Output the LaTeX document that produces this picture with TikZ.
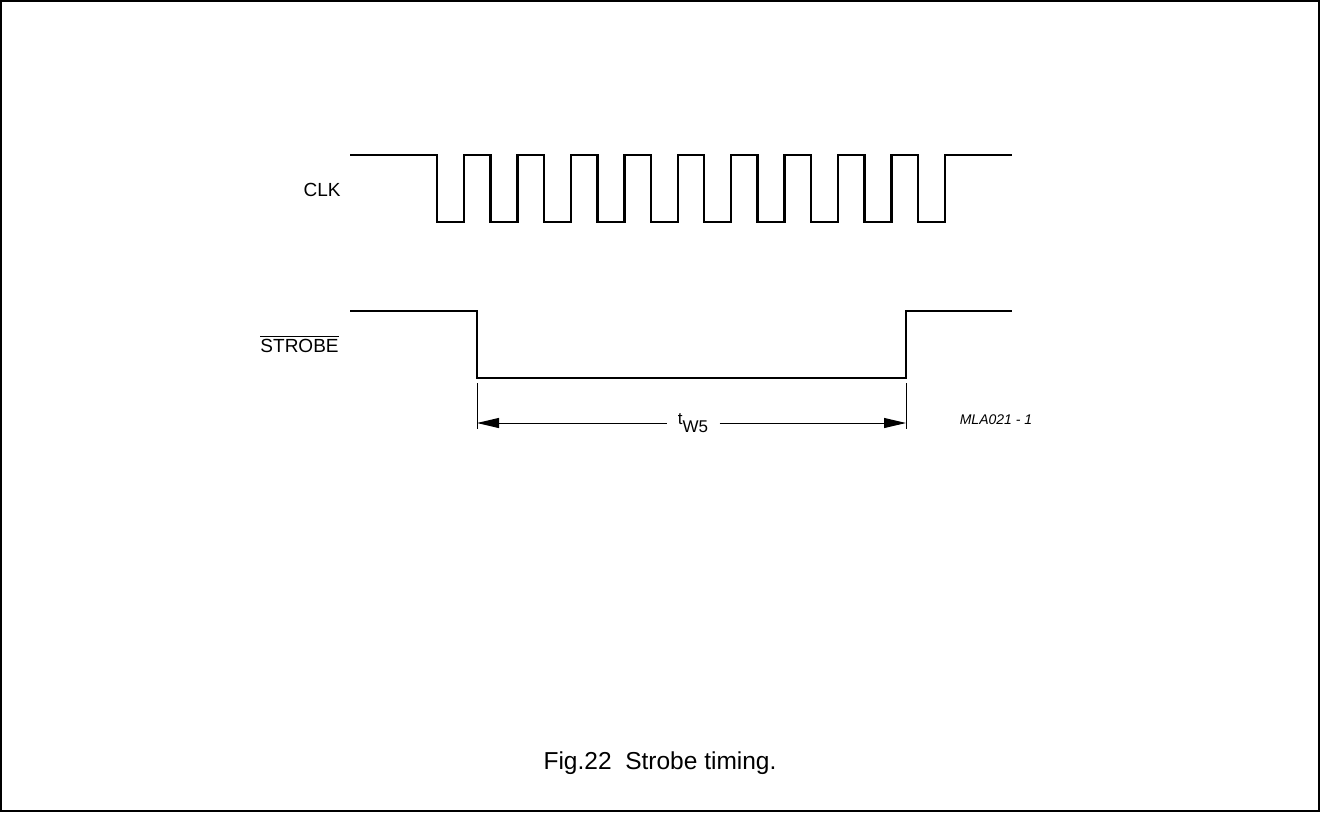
\documentclass[tikz,border=0pt]{standalone}
\usepackage{fontspec}
\setmainfont{Liberation Sans}
\usetikzlibrary{arrows.meta}
\begin{document}
\begin{tikzpicture}[x=0.5pt,y=-0.5pt,
	frame/.style={line width=0.9pt},
	signal/.style={line width=1.4pt,line join=miter},
	clk/.style={line width=1.25pt,line join=miter},
	tick/.style={line width=0.5pt},
	dimarrow/.style={line width=0.5pt,-{Triangle[length=11pt,width=5pt]}},
	lbl/.style={inner sep=0pt,font=\fontsize{9.5}{11}\selectfont},
	every node/.style={inner sep=0pt}]
\useasboundingbox (0,0) rectangle (1320,813);
\draw[frame] (1,1) rectangle (1319,811);
% signal names
\node[lbl,anchor=east] (clkname) at (341,190) {CLK};
\node[lbl,anchor=east] (strobename) at (339,344) {$\overline{\mbox{STROBE}}$};
% clock
\draw[clk] (350,155) \foreach \i in {0,...,9} {
	-- ({437+53.44*\i},155) -- ++(0,67) -- ++(27,0) -- ++(0,-67)
	} -- (1012,155);
% strobe
\coordinate (sfall) at (477,378);
\coordinate (srise) at (906,378);
\draw[signal] (350,311) -| (sfall) -- (srise) |- (1012,311);
% pulse width
\draw[tick] (477,383) -- (477,429);
\draw[tick] (906,383) -- (906,429);
\coordinate (dl) at (477,423);
\coordinate (dr) at (906,423);
\node[inner xsep=5.5pt] (tw) at (693,423) {\fontsize{8.5}{10}\selectfont t\raisebox{-3.6pt}{W5}};
\draw[dimarrow] (tw.west |- dl) -- (dl);
\draw[dimarrow] (tw.east |- dr) -- (dr);
\node (code) at (996,420) {\fontsize{7}{8}\selectfont\itshape MLA021 - 1};
% caption
\node (caption) at (660,763) {\fontsize{12.25}{14}\selectfont Fig.22\ \ Strobe timing.};
\end{tikzpicture}
\end{document}
